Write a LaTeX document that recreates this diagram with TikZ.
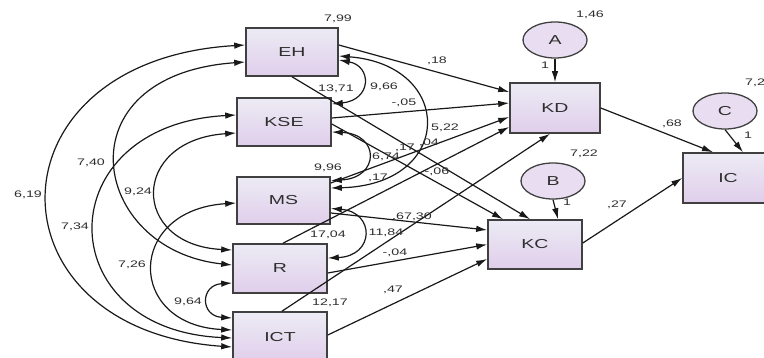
\documentclass[tikz,border=0pt]{standalone}
\usepackage{fontspec}
\setmainfont[FakeStretch=1.5]{Liberation Sans}
\usetikzlibrary{arrows.meta,shapes.geometric}
\definecolor{boxtop}{HTML}{ECEBF4}
\definecolor{boxbot}{HTML}{E0CEEB}
\definecolor{errfill}{HTML}{E9DEF1}
\definecolor{edgec}{HTML}{404040}
\definecolor{txt}{HTML}{2E2E2E}
\begin{document}
\begin{tikzpicture}[x=1pt,y=-1pt,
  box/.style={draw=edgec, line width=1.6pt, top color=boxtop, bottom color=boxbot, inner sep=0pt, text=txt, font=\fontsize{13}{13}\selectfont},
  err/.style={ellipse, draw=edgec, line width=1.3pt, fill=errfill, minimum width=64pt, minimum height=36pt, inner sep=0pt, text=txt, font=\fontsize{13}{13}\selectfont},
  lbl/.style={inner sep=0pt, text=txt, font=\fontsize{9.5}{9.5}\selectfont},
  arr/.style={-{Latex[length=11pt,width=6.5pt]}, line width=1.2pt, draw=black!90},
  cov/.style={{Latex[length=11pt,width=6.5pt]}-{Latex[length=11pt,width=6.5pt]}, line width=1.2pt, draw=black!90}]
\useasboundingbox[fill=white] (0,0) rectangle (764,358);
% boxes
\node[box, minimum width=92pt, minimum height=48pt] (EH) at (292,52) {EH};
\node[box, minimum width=94pt, minimum height=48pt] (KSE) at (284,122) {KSE};
\node[box, minimum width=93pt, minimum height=47pt] (MS) at (283.5,200.5) {MS};
\node[box, minimum width=94pt, minimum height=49pt] (R) at (280,268.5) {R};
\node[box, minimum width=94pt, minimum height=50pt] (ICT) at (280,337) {ICT};
\node[box, minimum width=90pt, minimum height=50pt] (KD) at (555,108) {KD};
\node[box, minimum width=94pt, minimum height=49pt] (KC) at (535,244.5) {KC};
\node[box, minimum width=90pt, minimum height=50pt] (IC) at (728,178) {IC};
\node[err] (A) at (555,40) {A};
\node[err] (B) at (553,181) {B};
\node[err] (C) at (725,111) {C};
% regression paths
\draw[arr] ([yshift=7pt]EH.east) -- ([yshift=16pt]KD.west);
\draw[arr] ([yshift=4pt]KSE.east) -- ([yshift=5pt]KD.west);
\draw[arr] ([yshift=17.5pt]MS.east) -- ([yshift=-9pt]KD.west);
\draw[arr] ([xshift=3pt]R.north) -- ([yshift=-19pt]KD.west);
\draw[arr] ([xshift=2pt]ICT.north) -- ([xshift=-5pt]KD.south);
\draw[arr] (EH.south) -- ([xshift=-5pt]KC.north);
\draw[arr] ([yshift=-2pt]KSE.east) -- ([xshift=-32pt]KC.north);
\draw[arr] ([yshift=-12.5pt]MS.east) -- ([yshift=14.5pt]KC.west);
\draw[arr] ([yshift=-4.5pt]R.east) -- (KC.west);
\draw[arr] ([yshift=2pt]ICT.east) -- ([yshift=-14.5pt]KC.west);
\draw[arr] (KD.east) -- ([xshift=-15pt]IC.north);
\draw[arr] ([yshift=1.5pt]KC.east) -- (IC.west);
\draw[arr] (A.south) -- (KD.north);
\draw[arr] (B.south) -- ([xshift=23pt]KC.north);
\draw[arr] (C.south) -- ([xshift=15pt]IC.north);
% covariances, left
\draw[cov] ([yshift=7pt]EH.west) .. controls (-16,60) and (-16,330) .. ([yshift=-10pt]ICT.west);
\draw[cov] ([yshift=-10pt]EH.west) .. controls (60,75) and (90,250) .. ([yshift=3.5pt]R.west);
\draw[cov] ([yshift=7pt]KSE.west) .. controls (48,125) and (48,330) .. ([yshift=-1pt]ICT.west);
\draw[cov] ([yshift=-11pt]KSE.west) .. controls (130,140) and (130,245) .. ([yshift=18.5pt]R.west);
\draw[cov] ([yshift=-2.5pt]MS.west) .. controls (126,210) and (126,325) .. ([yshift=7pt]ICT.west);
\draw[cov] ([yshift=-14.5pt]R.west) .. controls (200,285) and (200,316) .. ([yshift=19pt]ICT.west);
% covariances, right
\draw[cov] ([yshift=-8pt]EH.east) .. controls (372,66) and (372,100) .. ([yshift=18pt]KSE.east);
\draw[cov] ([yshift=-4pt]EH.east) .. controls (455,65) and (455,185) .. ([yshift=12.5pt]MS.east);
\draw[cov] ([yshift=-10pt]KSE.east) .. controls (380,134) and (380,178) .. ([yshift=20pt]MS.east);
\draw[cov] ([yshift=-8pt]MS.east) .. controls (375,212) and (375,256) .. ([yshift=10.5pt]R.east);
% labels
\node[lbl] (v1) at (338,19) {7,99};
\node[lbl] (v2) at (336,89) {13,71};
\node[lbl] (v3) at (328,168) {9,96};
\node[lbl] (v4) at (328,235) {17,04};
\node[lbl] (v5) at (330,303) {12,17};
\node[lbl] (c1) at (384,87) {9,66};
\node[lbl] (p1) at (404,103) {-,05};
\node[lbl] (p2) at (437,61) {,18};
\node[lbl] (c2) at (445,128) {5,22};
\node[lbl] (p3) at (405,148) {,17};
\node[lbl] (p4) at (429,143) {,04};
\node[lbl] (c3) at (386,157) {6,74};
\node[lbl] (p5) at (437,172) {-,06};
\node[lbl] (p6) at (378,178) {,17};
\node[lbl] (p7) at (412,217) {,67,30};
\node[lbl] (c4) at (386,233) {11,84};
\node[lbl] (p8) at (395,253) {-,04};
\node[lbl] (p9) at (393,290) {,47};
\node[lbl] (e1) at (590,15) {1,46};
\node[lbl] (e2) at (545,65) {1};
\node[lbl] (e3) at (584,154) {7,22};
\node[lbl] (e4) at (567,202) {1};
\node[lbl, anchor=west] (e5) at (745,83) {7,2};
\node[lbl] (e6) at (748,135) {1};
\node[lbl] (p10) at (672,124) {,68};
\node[lbl] (p11) at (617,205) {,27};
\node[lbl] (c5) at (28,195) {6,19};
\node[lbl] (c6) at (91,163) {7,40};
\node[lbl] (c7) at (138,192) {9,24};
\node[lbl] (c8) at (75,227) {7,34};
\node[lbl] (c9) at (132,265) {7,26};
\node[lbl] (c10) at (188,302) {9,64};
\end{tikzpicture}
\end{document}
